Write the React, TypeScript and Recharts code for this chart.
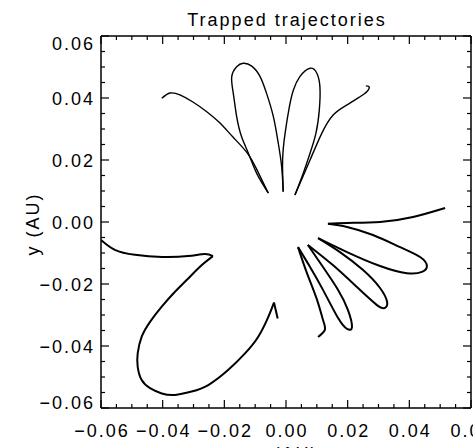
import { LineChart, Line, XAxis, YAxis } from 'recharts';

const TITLE = 'Trapped trajectories';
const X_LABEL = 'x (AU)';
const Y_LABEL = 'y (AU)';

// axis ticks (majors get a label, all get a tick mark)
const MAJOR_TICKS = [-0.06, -0.04, -0.02, 0, 0.02, 0.04, 0.06];
const MINOR_TICKS = [
  -0.06, -0.055, -0.05, -0.045, -0.04, -0.035, -0.03, -0.025, -0.02, -0.015, -0.01, -0.005,
  0, 0.005, 0.01, 0.015, 0.02, 0.025, 0.03, 0.035, 0.04, 0.045, 0.05, 0.055, 0.06,
];

// upper trajectories (x, y in AU), wiggly in the original
const upperLeftArc = [
  [-0.0403, 0.0399], [-0.0376, 0.0416], [-0.0344, 0.041], [-0.0302, 0.0387], [-0.0256, 0.0355],
  [-0.0214, 0.0319], [-0.0172, 0.0274], [-0.0126, 0.0223], [-0.0094, 0.0168], [-0.0058, 0.0094],
];
const leftPetal = [
  [-0.0057, 0.0093], [-0.0095, 0.0157], [-0.0122, 0.0222], [-0.0144, 0.0275], [-0.016, 0.034],
  [-0.0171, 0.0415], [-0.0176, 0.0469], [-0.016, 0.0501], [-0.0139, 0.0512], [-0.0111, 0.0503],
  [-0.0084, 0.0469], [-0.0063, 0.0415], [-0.0041, 0.034], [-0.0025, 0.0254], [-0.0014, 0.0178],
  [-0.0009, 0.0098],
];
const rightPetal = [
  [-0.0009, 0.0098], [-0.0011, 0.02], [-0.0003, 0.0286], [0.0011, 0.0372], [0.0024, 0.0426],
  [0.0045, 0.0469], [0.0078, 0.0496], [0.01, 0.048], [0.011, 0.0436], [0.0108, 0.0361],
  [0.0097, 0.0286], [0.0078, 0.0222], [0.0056, 0.0157], [0.0029, 0.0087],
];
const upperRightArc = [
  [0.0029, 0.0087], [0.0078, 0.02], [0.0116, 0.0286], [0.0153, 0.0345], [0.0197, 0.0377],
  [0.024, 0.0404], [0.0262, 0.042], [0.027, 0.0435], [0.0259, 0.0439],
];

// lower-left trajectory, split at its cusps
const lowerLeftInflow = [
  [-0.06, -0.0058], [-0.0555, -0.009], [-0.049, -0.0106], [-0.0402, -0.0113], [-0.0318, -0.011],
  [-0.0263, -0.0103], [-0.0237, -0.011],
];
const lowerLeftLoop = [
  [-0.0237, -0.011], [-0.0273, -0.0139], [-0.0317, -0.0182], [-0.036, -0.0225], [-0.0403, -0.0273],
  [-0.0441, -0.0322], [-0.0468, -0.037], [-0.0481, -0.0424], [-0.0481, -0.0467], [-0.0468, -0.051],
  [-0.0441, -0.0536], [-0.0403, -0.0553], [-0.036, -0.0558], [-0.0306, -0.0547], [-0.0252, -0.0526],
  [-0.0187, -0.0477], [-0.0133, -0.0424], [-0.009, -0.037], [-0.0057, -0.0305], [-0.0039, -0.026],
];
const lowerLeftTail = [[-0.0039, -0.026], [-0.0027, -0.0311]];

// right-hand trajectory with four loops, split at its cusps
const rightInflow = [
  [0.0516, 0.0045], [0.0412, 0.0016], [0.0305, 0], [0.0198, -0.0003], [0.0136, -0.0006],
];
const rightLoop1 = [
  [0.0136, -0.0006], [0.0198, -0.0016], [0.0282, -0.0042], [0.037, -0.0081], [0.0435, -0.0113],
  [0.0457, -0.0142], [0.0441, -0.0161], [0.0392, -0.0165], [0.0305, -0.0142], [0.0198, -0.0097],
  [0.0104, -0.0052],
];
const rightLoop2 = [
  [0.0104, -0.0052], [0.0175, -0.0097], [0.025, -0.0155], [0.0305, -0.0213], [0.0328, -0.0258],
  [0.0321, -0.0277], [0.0295, -0.0268], [0.023, -0.021], [0.0152, -0.0139], [0.0071, -0.0074],
];
const rightLoop3 = [
  [0.0071, -0.0074], [0.012, -0.0145], [0.0169, -0.0219], [0.0201, -0.0284], [0.0214, -0.0339],
  [0.0198, -0.0345], [0.0169, -0.031], [0.012, -0.0219], [0.0078, -0.0145], [0.0039, -0.0081],
];
const rightTail = [
  [0.0039, -0.0081], [0.0068, -0.0165], [0.0101, -0.0252], [0.012, -0.0316], [0.0126, -0.0348],
  [0.0104, -0.0371],
];

const toPts = (arr: number[][]) => arr.map(([x, y]) => ({ x, y }));

const series = [
  { key: 'ula', pts: upperLeftArc, w: 1.4 },
  { key: 'lp', pts: leftPetal, w: 1.4 },
  { key: 'rp', pts: rightPetal, w: 1.4 },
  { key: 'ura', pts: upperRightArc, w: 1.4 },
  { key: 'lli', pts: lowerLeftInflow, w: 2 },
  { key: 'lll', pts: lowerLeftLoop, w: 2 },
  { key: 'llt', pts: lowerLeftTail, w: 2 },
  { key: 'ri', pts: rightInflow, w: 2 },
  { key: 'r1', pts: rightLoop1, w: 2 },
  { key: 'r2', pts: rightLoop2, w: 2 },
  { key: 'r3', pts: rightLoop3, w: 2 },
  { key: 'rt', pts: rightTail, w: 2 },
];

const FONT = '"Liberation Sans", Arial, Helvetica, sans-serif';
const DOMAIN: [number, number] = [-0.06, 0.06];

const isMajor = (v: number) => MAJOR_TICKS.some((m) => Math.abs(m - v) < 1e-9);
const fmt = (v: number) => (Math.abs(v) < 1e-9 ? '0.00' : v.toFixed(2).replace('-', '\u2212'));

const textStyle = { fontFamily: FONT, fontSize: 18, letterSpacing: 2, fill: '#000' };

function BottomTick({ x, y, payload }: any) {
  const major = isMajor(payload.value);
  return (
    <g>
      <line x1={x} y1={y} x2={x} y2={y - (major ? 8 : 4)} stroke="#000" strokeWidth={1.2} />
      {major && (
        <text x={x + 1} y={y + 29} textAnchor="middle" style={textStyle}>
          {fmt(payload.value)}
        </text>
      )}
    </g>
  );
}

function TopTick({ x, y, payload }: any) {
  const major = isMajor(payload.value);
  return <line x1={x} y1={y} x2={x} y2={y + (major ? 8 : 4)} stroke="#000" strokeWidth={1.2} />;
}

function LeftTick({ x, y, payload }: any) {
  const v = payload.value;
  const major = isMajor(v);
  // end labels are pulled inward like in the original
  const shift = Math.abs(v - 0.06) < 1e-9 ? 7 : Math.abs(v + 0.06) < 1e-9 ? -6 : 0;
  return (
    <g>
      <line x1={x} y1={y} x2={x + (major ? 8 : 4)} y2={y} stroke="#000" strokeWidth={1.2} />
      {major && (
        <text x={x - 6} y={y + 6.5 + shift} textAnchor="end" style={textStyle}>
          {fmt(v)}
        </text>
      )}
    </g>
  );
}

function RightTick({ x, y, payload }: any) {
  const major = isMajor(payload.value);
  return <line x1={x} y1={y} x2={x - (major ? 8 : 4)} y2={y} stroke="#000" strokeWidth={1.2} />;
}

export default function App() {
  const axisLine = { stroke: '#000', strokeWidth: 1.5 };
  return (
    <div
      style={{
        position: 'fixed',
        left: 0,
        top: 0,
        width: 473,
        height: 448,
        overflow: 'hidden',
        background: '#fff',
      }}
    >
      <LineChart width={500} height={470} margin={{ top: 35, right: 28, left: 0, bottom: 0 }}>
        <XAxis
          xAxisId="b"
          type="number"
          dataKey="x"
          domain={DOMAIN}
          allowDataOverflow
          ticks={MINOR_TICKS}
          interval={0}
          height={62}
          tickSize={0}
          tickMargin={0}
          tickLine={false}
          axisLine={axisLine}
          tick={<BottomTick />}
        />
        <XAxis
          xAxisId="t"
          orientation="top"
          type="number"
          dataKey="x"
          domain={DOMAIN}
          allowDataOverflow
          ticks={MINOR_TICKS}
          interval={0}
          height={1}
          tickSize={0}
          tickMargin={0}
          tickLine={false}
          axisLine={axisLine}
          tick={<TopTick />}
        />
        <YAxis
          yAxisId="l"
          type="number"
          dataKey="y"
          domain={DOMAIN}
          allowDataOverflow
          ticks={MINOR_TICKS}
          interval={0}
          width={101}
          tickSize={0}
          tickMargin={0}
          tickLine={false}
          axisLine={axisLine}
          tick={<LeftTick />}
        />
        <YAxis
          yAxisId="r"
          orientation="right"
          type="number"
          dataKey="y"
          domain={DOMAIN}
          allowDataOverflow
          ticks={MINOR_TICKS}
          interval={0}
          width={1}
          tickSize={0}
          tickMargin={0}
          tickLine={false}
          axisLine={axisLine}
          tick={<RightTick />}
        />
        {series.map((s) => (
          <Line
            key={s.key}
            xAxisId="b"
            yAxisId="l"
            data={toPts(s.pts)}
            dataKey="y"
            type="natural"
            stroke="#000"
            strokeWidth={s.w}
            dot={false}
            activeDot={false}
            isAnimationActive={false}
          />
        ))}
      </LineChart>
      <svg
        width={473}
        height={470}
        style={{ position: 'absolute', left: 0, top: 0, pointerEvents: 'none' }}
      >
        <text x={287} y={26} textAnchor="middle" style={textStyle}>
          {TITLE}
        </text>
        <text transform="translate(39,224) rotate(-90)" textAnchor="middle" style={textStyle}>
          {Y_LABEL}
        </text>
        <text x={287} y={460} textAnchor="middle" style={textStyle}>
          {X_LABEL}
        </text>
      </svg>
    </div>
  );
}
